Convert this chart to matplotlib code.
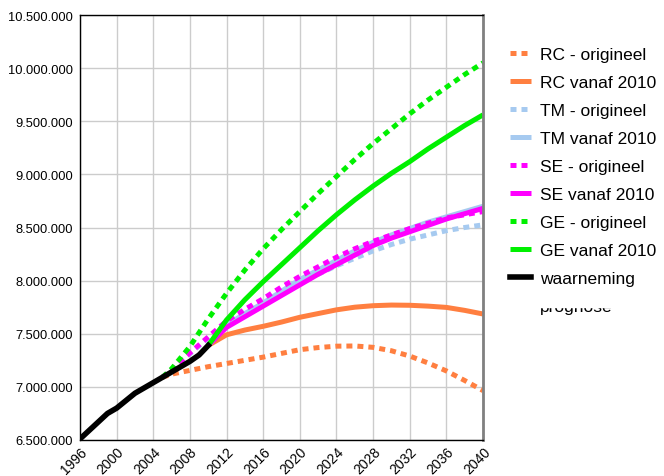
import numpy as np
import matplotlib
matplotlib.use("Agg")
import matplotlib.pyplot as plt
from matplotlib.lines import Line2D
from matplotlib.patches import Rectangle
from matplotlib.ticker import FuncFormatter

plt.rcParams['font.family'] = ['Liberation Sans', 'DejaVu Sans']

# huishoudens (miljoen)
obs_years = [1996, 1997, 1998, 1999, 2000, 2001, 2002, 2003, 2004, 2005,
             2006, 2007, 2008, 2009, 2010]
obs = [6.51, 6.59, 6.67, 6.75, 6.80, 6.87, 6.94, 6.99, 7.04, 7.09,
       7.14, 7.19, 7.24, 7.30, 7.39]

orig_years = [2005, 2006, 2008, 2010, 2012, 2014, 2016, 2018, 2020, 2022,
              2024, 2026, 2028, 2030, 2032, 2034, 2036, 2038, 2040]
new_years = [2010, 2012, 2014, 2016, 2018, 2020, 2022, 2024, 2026, 2028,
             2030, 2032, 2034, 2036, 2038, 2040]

rc_orig = [7.09, 7.12, 7.155, 7.19, 7.22, 7.25, 7.28, 7.315, 7.35, 7.37,
           7.383, 7.385, 7.372, 7.34, 7.29, 7.225, 7.15, 7.06, 6.965]
rc_new = [7.39, 7.49, 7.535, 7.57, 7.61, 7.655, 7.69, 7.725, 7.75, 7.764,
          7.77, 7.768, 7.76, 7.748, 7.72, 7.686]
tm_orig = [7.09, 7.16, 7.31, 7.46, 7.60, 7.71, 7.81, 7.90, 7.98, 8.06,
           8.14, 8.21, 8.28, 8.34, 8.39, 8.43, 8.47, 8.50, 8.525]
tm_new = [7.39, 7.58, 7.69, 7.79, 7.90, 8.01, 8.10, 8.19, 8.28, 8.36,
          8.43, 8.49, 8.55, 8.60, 8.65, 8.70]
se_orig = [7.09, 7.16, 7.32, 7.47, 7.62, 7.73, 7.83, 7.94, 8.04, 8.13,
           8.22, 8.30, 8.37, 8.43, 8.49, 8.54, 8.59, 8.62, 8.65]
se_new = [7.39, 7.56, 7.66, 7.76, 7.86, 7.96, 8.06, 8.15, 8.24, 8.33,
          8.40, 8.46, 8.52, 8.58, 8.63, 8.68]
ge_orig = [7.09, 7.17, 7.38, 7.64, 7.88, 8.10, 8.30, 8.48, 8.65, 8.82,
           8.98, 9.14, 9.29, 9.43, 9.57, 9.70, 9.82, 9.94, 10.05]
ge_new = [7.39, 7.63, 7.82, 7.99, 8.15, 8.31, 8.47, 8.62, 8.76, 8.89,
          9.01, 9.12, 9.24, 9.35, 9.46, 9.56]

orange = '#FF7F40'
lightblue = '#A6CAF0'
magenta = '#FF00FF'
green = '#00F000'

dotted = (0, (1.2, 1.0))
lw = 3.6

fig = plt.figure(figsize=(6.64, 4.77), dpi=100)
ax = fig.add_axes([80/664, 36/477, 403/664, 425/477])

def m(v):
    return np.array(v) * 1e6

series = [
    (orig_years, rc_orig, orange, dotted, 'RC - origineel'),
    (new_years, rc_new, orange, '-', 'RC vanaf 2010'),
    (orig_years, tm_orig, lightblue, dotted, 'TM - origineel'),
    (new_years, tm_new, lightblue, '-', 'TM vanaf 2010'),
    (orig_years, se_orig, magenta, dotted, 'SE - origineel'),
    (new_years, se_new, magenta, '-', 'SE vanaf 2010'),
    (orig_years, ge_orig, green, dotted, 'GE - origineel'),
    (new_years, ge_new, green, '-', 'GE vanaf 2010'),
]
handles = []
for xs, ys, c, ls, lab in series:
    ln, = ax.plot(xs, m(ys), color=c, linestyle=ls, lw=lw,
                  solid_capstyle='butt', dash_capstyle='butt', label=lab)
    handles.append(ln)
ln, = ax.plot(obs_years, m(obs), color='black', lw=4.0, label='waarneming')
handles.append(ln)
handles.append(Line2D([], [], color='black', lw=1, linestyle=(0, (1, 1.5)),
                      label='prognose'))

ax.set_xlim(1996, 2040)
ax.set_ylim(6.5e6, 10.5e6)
ax.set_xticks(range(1996, 2041, 4))
ax.set_yticks(np.arange(6.5e6, 10.6e6, 0.5e6))
ax.yaxis.set_major_formatter(FuncFormatter(lambda v, p: f"{int(round(v)):,}".replace(',', '.')))
ax.grid(True, color='#CCCCCC', lw=1)
ax.set_axisbelow(True)
ax.tick_params(axis='both', length=0, labelsize=9.3, pad=5)
ax.tick_params(axis='x', pad=3, labelsize=10)
for lab in ax.get_xticklabels():
    lab.set_rotation(45)
    lab.set_ha('right')
    lab.set_rotation_mode('anchor')
for s in ['left', 'bottom', 'top']:
    ax.spines[s].set_color('black')
    ax.spines[s].set_linewidth(1)
ax.spines['right'].set_color('#808080')
ax.spines['right'].set_linewidth(2)

leg = fig.legend(handles=handles, loc='upper left',
                 bbox_to_anchor=(503/664, 1 - 41/477), frameon=False,
                 fontsize=12.5, handlelength=1.2, handletextpad=0.55,
                 labelspacing=0.74, borderaxespad=0)
leg.set_zorder(5)

# onderste regel van de legenda is deels afgedekt
fig.patches.append(Rectangle((500/664, 1 - 308/477), 164/664, 18/477,
                             transform=fig.transFigure, color='white', zorder=10))

fig.savefig('out.png', dpi=100)
